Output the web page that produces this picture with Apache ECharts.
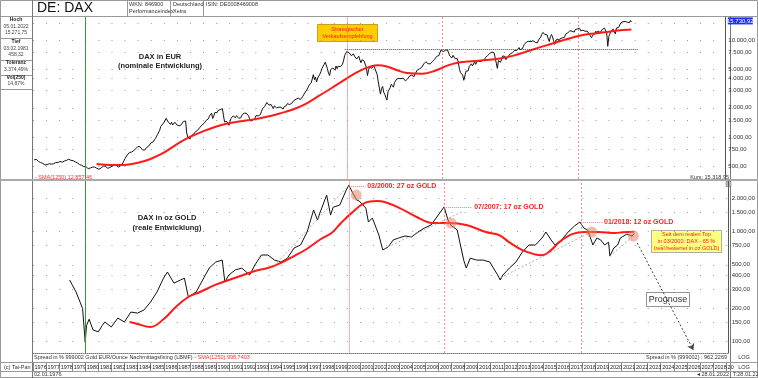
<!DOCTYPE html>
<html><head><meta charset="utf-8">
<script src="https://cdn.jsdelivr.net/npm/echarts@6/dist/echarts.min.js"></script>
<style>html,body{margin:0;padding:0;background:#fff}#c{width:758px;height:378px}</style>
</head><body><div id="c"></div>
<script>
// ---------- DATA ----------
const daxStartYear = 1976; // monthly closes, Jan 1976 .. Jan 2022
const daxMonthlyClose = [
580,585,590,575,560,555,545,540,535,520,515,509,
520,525,530,530,525,520,530,540,545,545,545,549,
560,555,550,560,565,570,575,585,590,585,575,575,
570,560,555,550,540,525,520,515,510,500,495,498,
495,495,470,475,480,485,490,495,490,485,475,480,
465,460,480,495,500,490,500,505,475,470,485,490,
500,505,510,520,510,495,490,495,505,525,540,552,
600,620,650,680,690,690,700,720,720,740,760,774,
800,770,790,780,740,740,730,760,780,800,810,820,
870,880,890,920,960,990,1060,1080,1170,1280,1320,1366,
1400,1470,1560,1500,1420,1400,1350,1420,1330,1380,1420,1432,
1330,1280,1300,1350,1340,1370,1450,1490,1460,1100,1000,1000,
950,1030,1050,1060,1090,1130,1180,1170,1210,1250,1260,1328,
1350,1380,1420,1480,1500,1540,1640,1690,1760,1550,1640,1790,
1850,1780,1880,1850,1920,1950,1960,1650,1430,1480,1450,1398,
1320,1450,1560,1600,1650,1600,1580,1660,1620,1560,1530,1578,
1680,1720,1760,1730,1760,1730,1660,1560,1460,1440,1480,1545,
1560,1660,1690,1650,1660,1700,1820,1950,1950,2060,2040,2267,
2200,2130,2060,2160,2100,1960,2090,2160,2000,2060,2030,2107,
2030,1990,1940,2050,2110,2100,2210,2220,2160,2150,2220,2254,
2380,2390,2450,2500,2520,2530,2430,2520,2600,2670,2840,2889,
3060,3220,3420,3380,3600,3750,4390,3900,4150,3690,4060,4250,
4440,4710,5100,5200,5600,5900,6100,5060,4550,4300,4950,5002,
5150,5030,4880,5400,5070,5380,5230,5310,5150,5640,6200,6958,
6840,7640,7990,7410,7110,6900,7190,7180,6800,7080,6370,6434,
6800,6210,5830,6260,6120,6060,5860,5190,4300,4920,5250,5160,
5110,5040,5400,5040,4820,4380,3700,3710,2770,3150,3320,2893,
2750,2550,2400,2940,2980,3220,3490,3480,3260,3650,3750,3965,
4060,4020,3860,3990,3920,4050,3900,3790,3890,3960,4130,4256,
4250,4350,4350,4180,4460,4590,4890,4830,5040,4930,5190,5408,
5670,5800,5970,6010,5690,5680,5680,5860,6000,6270,6310,6597,
6790,6710,6920,7410,7880,8010,7580,7640,7860,8020,7870,8067,
6850,6750,6530,6950,7100,6420,6480,6420,5830,4990,4600,4810,
4340,3840,3700,4770,4940,4810,5330,5460,5680,5410,5630,5957,
5610,5600,6150,6140,5960,5970,6150,5930,6230,6600,6690,6914,
7080,7270,7040,7510,7290,7380,7160,5780,5100,6140,6090,5898,
6460,6860,6950,6760,6260,6420,6770,6970,7220,7260,7410,7612,
7780,7740,7800,7910,8350,7960,8280,8100,8590,9030,9400,9552,
9310,9690,9560,9600,9940,9830,9410,9470,9470,9330,9980,9806,
10690,11400,11970,11450,11410,10940,11310,10260,9660,10850,11380,10743,
9800,9000,9970,10040,10260,9680,10340,10590,10510,10670,10640,11481,
11540,11830,12310,12440,12620,12330,12120,12060,12830,13230,13020,12918,
13190,12440,12100,12610,12600,12310,12810,12360,12250,11450,11260,10559,
11170,11520,11530,12340,11730,12400,12190,11940,12430,12870,13240,13249,
12980,11890,8600,10860,11590,12310,12310,12950,12760,11560,13290,13719,
13430,13790,15010,15140,15420,15530,15540,15840,15260,15690,15100,15885,
15319
];
const daxLast = 15730.92;
const daxSmaYears  = [1980.9,1982,1983,1984,1985,1986,1987,1988,1989,1990,1991,1992,1993,1994,1995,1996,1997,1998,1999,2000,2001,2002,2002.6,2003.3,2004,2004.8,2006,2007,2008,2008.6,2009.5,2010.5,2011.7,2013,2014,2015,2016,2017,2018,2019,2020,2021,2022.07];
const daxSmaValues = [527,515,515,540,590,680,830,990,1130,1270,1380,1450,1520,1620,1750,1920,2200,2650,3200,3900,4700,5350,5500,5300,4900,4570,4500,4850,5500,5800,6000,6150,6360,6900,7600,8400,9200,10100,11000,11600,12000,12500,12857];

const goldYears = [1978.8,1979.0,1979.3,1979.6,1979.8,1980.0,1980.1,1980.3,1980.6,1981.0,1981.3,1981.5,1982.0,1982.5,1983.0,1983.5,1984.0,1984.5,1985.0,1985.5,1986.0,1986.3,1986.8,1987.3,1987.6,1987.9,1988.5,1989.0,1989.5,1990.0,1990.5,1990.7,1991.0,1991.5,1992.0,1992.6,1993.0,1993.5,1994.0,1994.5,1995.0,1995.5,1996.0,1996.5,1997.0,1997.5,1997.8,1998.0,1998.5,1998.8,1999.0,1999.5,2000.0,2000.2,2000.5,2000.8,2001.0,2001.5,2001.7,2002.0,2002.5,2002.8,2003.2,2003.6,2004.0,2004.5,2005.0,2005.5,2006.0,2006.5,2007.0,2007.5,2007.8,2008.0,2008.5,2008.8,2009.0,2009.2,2009.5,2010.0,2010.5,2011.0,2011.6,2011.8,2012.0,2012.5,2013.0,2013.5,2014.0,2014.5,2015.0,2015.3,2015.7,2016.0,2016.5,2017.0,2017.5,2017.9,2018.2,2018.5,2018.9,2019.2,2019.5,2019.8,2020.1,2020.2,2020.5,2020.8,2021.0,2021.5,2021.9,2022.07];
const goldValues = [364,330,283,230,200,99,140,160,128,123,140,151,136,164,151,186,182,194,229,283,378,430,341,364,378,255,283,364,467,530,552,349,404,449,467,404,498,614,614,552,530,575,711,757,994,1575,1277,1504,2150,1415,1671,1745,2390,2650,2250,1940,1900,1640,1225,1331,933,682,725,841,876,914,895,994,1080,1150,1390,1680,1277,1150,1036,711,552,467,575,552,552,530,404,364,404,467,530,654,757,757,876,994,841,757,841,994,1130,1225,1080,1036,757,876,841,757,802,600,711,757,876,950,914,962];
const goldSmaYears  = [1983.4,1984,1985,1986,1987,1987.9,1988.8,1990,1991,1992,1993,1994,1995,1996,1997,1998,1998.9,1999.6,2000.4,2001.4,2002.4,2003,2004.1,2005.4,2006.6,2007.9,2009.2,2010.7,2011.7,2012.5,2013.5,2014.5,2015.0,2015.7,2016.3,2017.3,2018.3,2019.3,2020.6,2021.2,2022.07];
const goldSmaValues = [151,145,136,160,210,255,283,330,364,400,440,467,520,600,700,850,980,1200,1475,1820,1900,1850,1640,1360,1200,1200,1150,994,933,800,680,620,610,680,800,950,994,994,972,990,998.74];

const topTicks = [500,750,1000,1500,2000,3000,4000,5000,7500,10000,15000];
const bottomTicks = [100,150,200,300,400,500,750,1000,1500,2000];
const yearMin = 1976, yearMax = 2029.3;

// ---------- HELPERS ----------
const L = v => Math.log10(v);
function de(v, dec){ const s = v.toFixed(dec); let p = s.split('.'); p[0] = p[0].replace(/\B(?=(\d{3})+(?!\d))/g, '.'); return p[1] ? p[0] + ',' + p[1] : p[0]; }
const daxData = daxMonthlyClose.map((v, i) => [daxStartYear + (i + 1) / 12, L(v)]);
daxData[daxData.length - 1][0] = 2022.07;
const pairs = (xs, ys) => xs.map((x, i) => [x, L(ys[i])]);

const FONT = '"Liberation Sans", Arial, sans-serif';
const dots = { color: '#9a9a9a', width: 1, type: [1, 12.08] };

function yAx(grid, lo, hi, ticks, hideVal) {
  return {
    type: 'value', gridIndex: grid, position: 'right', min: lo, max: hi, scale: true,
    axisLine: { show: true, lineStyle: { color: '#555', width: 1 } },
    axisTick: { show: false, customValues: ticks.map(L) },
    axisLabel: { customValues: ticks.map(L), fontSize: 6, color: '#333', fontFamily: FONT, margin: 3,
      formatter: v => { const r = Math.round(Math.pow(10, v)); return r === hideVal ? '' : de(r, 2); } },
    splitLine: { show: true, lineStyle: dots }
  };
}
const vline = (x, color, type, w) => ({ xAxis: x, lineStyle: { color: color, type: type, width: w || 1 } });

const opt = {
  animation: false,
  textStyle: { fontFamily: FONT },
  grid: [
    { left: 33, right: 28, top: 17, height: 162 },
    { left: 33, right: 28, top: 181, height: 172 },
    { left: 33, right: 28, top: 363, height: 8 }
  ],
  xAxis: [
    { type: 'value', gridIndex: 0, min: yearMin, max: yearMax, show: false },
    { type: 'value', gridIndex: 1, min: yearMin, max: yearMax, axisLabel: { show: false }, axisTick: { show: false }, splitLine: { show: false },
      axisLine: { show: true, lineStyle: { color: '#777', type: [1, 1] } } },
    { type: 'value', gridIndex: 2, min: yearMin, max: yearMax, interval: 1,
      axisLine: { show: false }, axisTick: { show: false },
      splitLine: { show: true, lineStyle: { color: '#8a8a8a', width: 1 } },
      axisLabel: { inside: true, interval: 0, showMinLabel: true, showMaxLabel: false, margin: 4, fontSize: 5.5, color: '#222',
        align: 'left', verticalAlign: 'middle', padding: [0, 0, 0, 1.5],
        formatter: v => Number.isInteger(v) ? (v === 2029 ? '20' : String(v)) : '' } }
  ],
  yAxis: [
    yAx(0, 2.567, 4.2371, topTicks, 15000),
    yAx(1, 1.8973, 3.4609, bottomTicks, null),
    { type: 'value', gridIndex: 2, show: false, min: 0, max: 1 }
  ],
  series: [
    { name: 'DAX', type: 'line', xAxisIndex: 0, yAxisIndex: 0, data: daxData, showSymbol: false, symbol: 'none',
      lineStyle: { color: '#111', width: 1 }, z: 3,
      markLine: { silent: true, symbol: 'none', label: { show: false },
        data: [
          vline(1980.0, '#3a9a3a', 'solid'),
          vline(2000.2, 'rgba(255,110,110,0.55)', 'solid'),
          vline(2007.5, 'rgba(255,90,90,0.7)', [2, 2]),
          vline(2018.0, 'rgba(255,90,90,0.7)', [2, 2]),
          [{ coord: [2000.0, L(8065)], lineStyle: { color: '#444', type: [1, 1], width: 1 } }, { coord: [2022.6, L(8065)] }]
        ] },
      markPoint: { silent: true, data: [
        { coord: [yearMax, L(daxLast)], symbol: 'rect', symbolSize: [25, 7], symbolOffset: [15, 0],
          itemStyle: { color: '#1d2ff0' },
          label: { show: true, position: 'inside', formatter: de(daxLast, 2), color: '#fff', fontSize: 6 } }
      ] } },
    { name: 'SMA(1250)', type: 'line', xAxisIndex: 0, yAxisIndex: 0, data: pairs(daxSmaYears, daxSmaValues), showSymbol: false, symbol: 'none', smooth: 0.4,
      lineStyle: { color: '#ff1a1a', width: 2 }, z: 4 },
    { name: 'DAX in Gold', type: 'line', xAxisIndex: 1, yAxisIndex: 1, data: pairs(goldYears, goldValues), showSymbol: false, symbol: 'none',
      lineStyle: { color: '#111', width: 1 }, z: 3,
      markLine: { silent: true, symbol: 'none', label: { show: false },
        data: [
          vline(1980.0, '#3a9a3a', 'solid'),
          vline(2000.2, 'rgba(255,110,110,0.55)', 'solid'),
          vline(2007.5, 'rgba(255,90,90,0.7)', [2, 2]),
          vline(2018.0, 'rgba(255,90,90,0.7)', [2, 2]),
          [{ coord: [1994.1, L(437)], lineStyle: { color: '#999', type: [2, 2], width: 0.8 } }, { coord: [2000.0, L(2490)] }],
          [{ coord: [2002.9, L(700)], lineStyle: { color: '#999', type: [2, 2], width: 0.8 } }, { coord: [2009.0, L(1540)] }],
          [{ coord: [2011.8, L(380)], lineStyle: { color: '#999', type: [2, 2], width: 0.8 } }, { coord: [2018.8, L(1000)] }],
          [{ coord: [2020.2, L(600)], lineStyle: { color: '#999', type: [2, 2], width: 0.8 } }, { coord: [2022.0, L(914)] }],
          [{ coord: [2000.2, L(2600)], lineStyle: { color: 'rgba(255,90,90,0.8)', type: [1, 1], width: 1 } },
           { coord: [2001.45, L(2600)], label: { show: true, position: 'end', distance: 2, formatter: '03/2000: 27 oz GOLD', color: '#ff2020', fontWeight: 'bold', fontSize: 7 } }],
          [{ coord: [2007.5, L(1680)], lineStyle: { color: 'rgba(255,90,90,0.8)', type: [1, 1], width: 1 } },
           { coord: [2009.65, L(1680)], label: { show: true, position: 'end', distance: 2, formatter: '07/2007: 17 oz GOLD', color: '#ff2020', fontWeight: 'bold', fontSize: 7 } }],
          [{ coord: [2018.0, L(1225)], lineStyle: { color: 'rgba(255,90,90,0.8)', type: [1, 1], width: 1 } },
           { coord: [2019.6, L(1225)], label: { show: true, position: 'end', distance: 2, formatter: '01/2018: 12 oz GOLD', color: '#ff2020', fontWeight: 'bold', fontSize: 7 } }],
          [{ coord: [2022.3, L(790)], symbol: 'none', lineStyle: { color: '#444', type: [2, 2], width: 1 } },
           { coord: [2026.6, L(84)], symbol: 'arrow', symbolSize: 6 }]
        ] },
      markPoint: { silent: true, symbol: 'circle', symbolSize: 11, label: { show: false },
        itemStyle: { color: 'rgba(232,130,100,0.55)' },
        data: [ { coord: [2000.77, L(2155)] }, { coord: [2008.03, L(1199)] }, { coord: [2018.8, L(994)] }, { coord: [2022.0, L(914)] } ] } },
    { name: 'SMA(1250) Gold', type: 'line', xAxisIndex: 1, yAxisIndex: 1, data: pairs(goldSmaYears, goldSmaValues), showSymbol: false, symbol: 'none', smooth: 0.4,
      lineStyle: { color: '#ff1a1a', width: 2 }, z: 4 },
    { name: 'years', type: 'line', xAxisIndex: 2, yAxisIndex: 2, data: [],
      markLine: { silent: true, symbol: 'none', label: { show: false }, data: [ vline(1980.0, '#3a9a3a', 'solid') ] } }
  ],
  graphic: []
};

// ---------- FRAME & TEXT ----------
const G = opt.graphic;
const ln = (x1, y1, x2, y2, c, w) => G.push({ type: 'line', silent: true, shape: { x1, y1, x2, y2 }, style: { stroke: c || '#888', lineWidth: w || 1 } });
const tx = (x, y, t, o) => G.push({ type: 'text', silent: true, x, y, style: Object.assign({ text: t, fontSize: 5.5, fill: '#333', fontFamily: FONT, verticalAlign: 'middle' }, o || {}) });

G.push({ type: 'rect', silent: true, shape: { x: 0.5, y: 0.5, width: 757, height: 377 }, style: { fill: 'none', stroke: '#999' } });
ln(0, 16.5, 758, 16.5, '#999');
ln(32.5, 0, 32.5, 378, '#777');
ln(730.5, 16, 730.5, 378, '#777');
ln(127.5, 0, 127.5, 16, '#999'); ln(170.5, 0, 170.5, 16, '#999'); ln(203.5, 0, 203.5, 16, '#999');
ln(0, 180, 758, 180, '#aaa', 2);
ln(0, 362.5, 758, 362.5, '#999'); ln(0, 371.5, 758, 371.5, '#999');
[38.5, 60.5, 75.5, 89.5].forEach(y => ln(0, y, 32, y, '#999'));
G.push({ type: 'rect', silent: true, shape: { x: 726, y: 181.5, width: 5, height: 5 }, style: { fill: '#bbb', stroke: '#666', lineWidth: 0.5 } });

tx(37, 8, 'DE: DAX', { fontSize: 14, fill: '#111' });
tx(129, 4.5, 'WKN: 846900'); tx(129, 11.5, 'Performanceindex');
tx(173, 4.5, 'Deutschland'); tx(173, 11.5, 'Xetra');
tx(206, 4.5, 'ISIN: DE0008469008');

const lp = [['Hoch', 19.5, true], ['05.01.2022', 26.5], ['15.271,75', 33], ['Tief', 42, true], ['03.02.1981', 48.5], ['458,32', 55],
            ['Toleranz', 63, true], ['3.374,49%', 69.5], ['Vol(250)', 78, true], ['14,87%', 84]];
lp.forEach(a => tx(16, a[1], a[0], { align: 'center', fontWeight: a[2] ? 'bold' : 'normal', fill: a[2] ? '#222' : '#444', fontSize: 5 }));

tx(160, 57, 'DAX in EUR', { align: 'center', fontSize: 7.5, fontWeight: 'bold', fill: '#222' });
tx(160, 66, '(nominale Entwicklung)', { align: 'center', fontSize: 7.5, fontWeight: 'bold', fill: '#222' });
tx(167, 218, 'DAX in oz GOLD', { align: 'center', fontSize: 7.5, fontWeight: 'bold', fill: '#222' });
tx(167, 228, '(reale Entwicklung)', { align: 'center', fontSize: 7.5, fontWeight: 'bold', fill: '#222' });

G.push({ type: 'rect', silent: true, shape: { x: 317.5, y: 24.5, width: 60, height: 17 }, style: { fill: '#ffcc00', stroke: '#b89200', lineWidth: 0.8 } });
tx(347.5, 29.5, 'Strategischer', { align: 'center', fill: '#ff1a1a', fontSize: 5.5 });
tx(347.5, 36.5, 'Verkaufsempfehlung', { align: 'center', fill: '#ff1a1a', fontSize: 5.5 });

G.push({ type: 'rect', silent: true, shape: { x: 651.5, y: 230.5, width: 70, height: 22 }, style: { fill: '#ffff80', stroke: '#999', lineWidth: 0.8 } });
tx(686.5, 234.5, 'Seit dem realen Top', { align: 'center', fill: '#ff1a1a', fontSize: 5.5 });
tx(686.5, 241.5, 'in 03/2000: DAX - 65 %', { align: 'center', fill: '#ff1a1a', fontSize: 5.5 });
tx(686.5, 248.5, '(real bewertet in oz GOLD)', { align: 'center', fill: '#ff1a1a', fontSize: 5.5 });

G.push({ type: 'rect', silent: true, shape: { x: 646.5, y: 292.5, width: 43, height: 14 }, style: { fill: '#fff', stroke: '#777', lineWidth: 0.8 } });
tx(668, 299.5, 'Prognose', { align: 'center', fill: '#333', fontSize: 9 });

tx(35, 177, '- SMA(1250) 12.857,46', { fill: '#ff3030', fontSize: 5.5 });
tx(729, 177, 'Kurs: 15.318,95', { align: 'right', fill: '#333', fontSize: 5.5 });

G.push({ type: 'text', silent: true, x: 34, y: 357.5, style: { rich: { a: { fill: '#333', fontSize: 5.5, fontFamily: FONT }, b: { fill: '#ff3030', fontSize: 5.5, fontFamily: FONT } },
  text: '{a|Spread in % 999002 Gold EUR/Ounce Nachmittagsfixing (LBMF)}{b| - SMA(1250):998,7403}', verticalAlign: 'middle' } });
tx(727, 357.5, 'Spread in % (999002) : 962,2269', { align: 'right', fontSize: 5.5 });
tx(744, 357.5, 'LOG', { align: 'center', fontSize: 5.5 });
tx(744, 367, 'LOG', { align: 'center', fontSize: 5.5 });
tx(4, 367, '(c) Tai-Pan', { fontSize: 5.5 });
tx(34, 374.5, '02.01.1976', { fontSize: 5.5 });
tx(729, 374.5, '◂ 28.01.2022', { align: 'right', fontSize: 5.5 });
tx(733, 374.5, 'T:28.01.22', { fontSize: 5.5 });

const chart = echarts.init(document.getElementById('c'), null, { renderer: 'canvas' });
chart.setOption(opt);
</script>
</body></html>
